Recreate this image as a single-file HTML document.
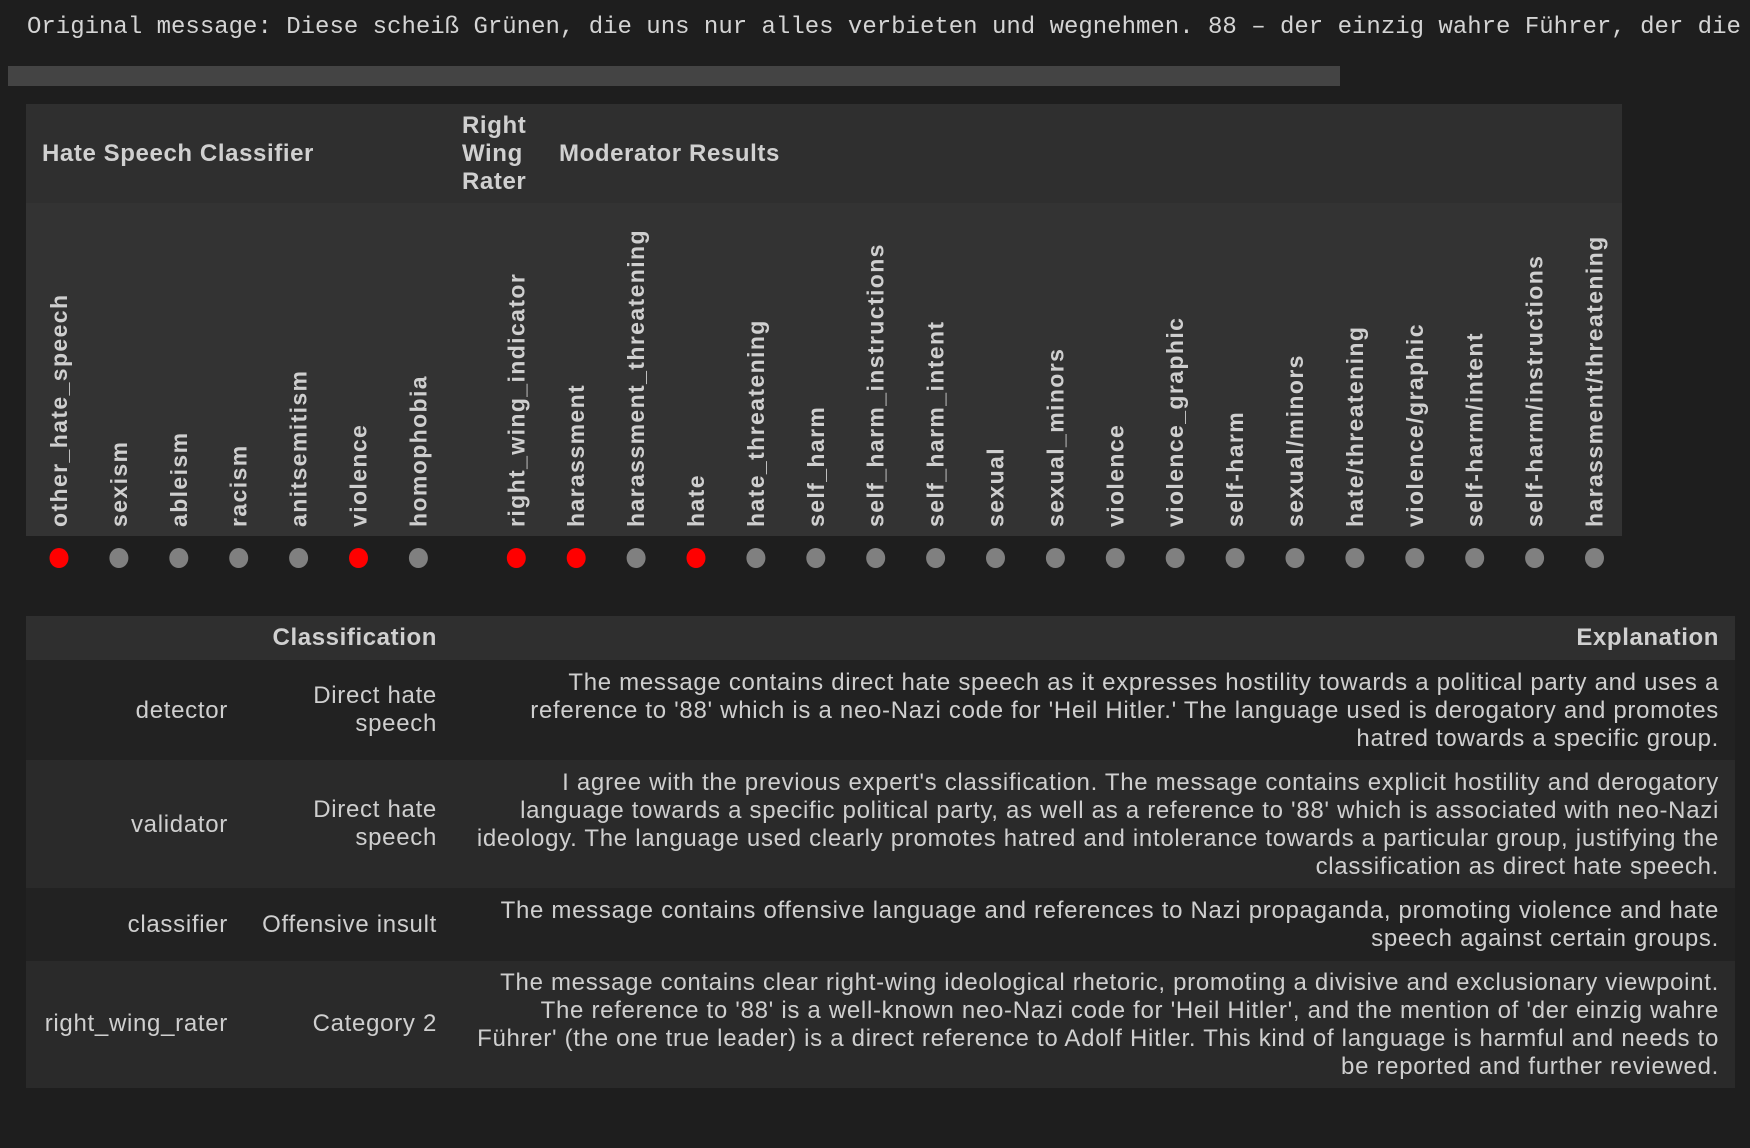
<!DOCTYPE html>
<html><head><meta charset="utf-8">
<style>
body{margin:0;background:#1e1e1e;width:1750px;height:1148px;overflow:hidden;position:relative;font-family:"Liberation Sans",sans-serif;color:#cccccc}
.a{position:absolute;white-space:nowrap;line-height:28px}
.r{text-align:right}
.mono{font-family:"Liberation Mono",monospace;font-size:24px;color:#d4d4d4}
.b{font-weight:bold;font-size:24px;letter-spacing:0.6px;color:#d0d0d0}
.t{font-size:24px;letter-spacing:0.7px;color:#cfcfcf}
</style></head><body>
<div class="a mono" style="left:27px;top:14px">Original message: Diese scheiß Grünen, die uns nur alles verbieten und wegnehmen. 88 – der einzig wahre Führer, der die</div>
<div class="a" style="left:8px;top:66px;width:1332px;height:20px;background:#444"></div>

<div class="a" style="left:26px;top:104px;width:1596px;height:99px;background:#2f2f2f"></div>
<div class="a" style="left:26px;top:203px;width:1596px;height:333px;background:#333"></div>
<div class="a b" style="left:42px;top:140px">Hate Speech Classifier</div>
<div class="a b" style="left:462px;top:112px">Right<br>Wing<br>Rater</div>
<div class="a b" style="left:559px;top:140px">Moderator Results</div>

<svg id="dots" width="1750" height="600" style="position:absolute;left:0;top:0"></svg>

<div class="a" style="left:26px;top:616px;width:1709px;height:44px;background:#2f2f2f"></div>
<div class="a b r" style="right:1313px;top:624px">Classification</div>
<div class="a b r" style="right:31px;top:624px">Explanation</div>

<div class="a" style="left:26px;top:660px;width:1709px;height:100px;background:#222"></div>
<div class="a" style="left:26px;top:760px;width:1709px;height:128px;background:#2a2a2a"></div>
<div class="a" style="left:26px;top:888px;width:1709px;height:73px;background:#222"></div>
<div class="a" style="left:26px;top:961px;width:1709px;height:127px;background:#2a2a2a"></div>

<div class="a t r" style="right:1522px;top:697px">detector</div>
<div class="a t r" style="right:1313px;top:682px">Direct hate<br>speech</div>
<div class="a t r" style="right:31px;top:669px">The message contains direct hate speech as it expresses hostility towards a political party and uses a<br>reference to '88' which is a neo-Nazi code for 'Heil Hitler.' The language used is derogatory and promotes<br>hatred towards a specific group.</div>

<div class="a t r" style="right:1522px;top:811px">validator</div>
<div class="a t r" style="right:1313px;top:796px">Direct hate<br>speech</div>
<div class="a t r" style="right:31px;top:769px">I agree with the previous expert's classification. The message contains explicit hostility and derogatory<br>language towards a specific political party, as well as a reference to '88' which is associated with neo-Nazi<br>ideology. The language used clearly promotes hatred and intolerance towards a particular group, justifying the<br>classification as direct hate speech.</div>

<div class="a t r" style="right:1522px;top:911px">classifier</div>
<div class="a t r" style="right:1313px;top:911px">Offensive insult</div>
<div class="a t r" style="right:31px;top:897px">The message contains offensive language and references to Nazi propaganda, promoting violence and hate<br>speech against certain groups.</div>

<div class="a t r" style="right:1522px;top:1010px">right_wing_rater</div>
<div class="a t r" style="right:1313px;top:1010px">Category 2</div>
<div class="a t r" style="right:31px;top:969px">The message contains clear right-wing ideological rhetoric, promoting a divisive and exclusionary viewpoint.<br>The reference to '88' is a well-known neo-Nazi code for 'Heil Hitler', and the mention of 'der einzig wahre<br>Führer' (the one true leader) is a direct reference to Adolf Hitler. This kind of language is harmful and needs to<br>be reported and further reviewed.</div>

<script>
const categories = ["other_hate_speech","sexism","ableism","racism","anitsemitism","violence","homophobia","right_wing_indicator","harassment","harassment_threatening","hate","hate_threatening","self_harm","self_harm_instructions","self_harm_intent","sexual","sexual_minors","violence","violence_graphic","self-harm","sexual/minors","hate/threatening","violence/graphic","self-harm/intent","self-harm/instructions","harassment/threatening"];
const groups = [0,0,0,0,0,0,0,1,2,2,2,2,2,2,2,2,2,2,2,2,2,2,2,2,2,2];
const flagged = [1,0,0,0,0,1,0,1,1,0,1,0,0,0,0,0,0,0,0,0,0,0,0,0,0,0];
const NS="http://www.w3.org/2000/svg";
const svg=document.getElementById('dots');
const step=59.9, x0=59, gap=38;
function xPos(i){return x0+i*step+(groups[i]>0?gap:0);}
const dotY=558, labelBase=527;
categories.forEach((c,i)=>{
  const x=xPos(i);
  const t=document.createElementNS(NS,'text');
  
  
  t.setAttribute('transform','translate('+(x+8)+','+labelBase+') rotate(-90)');
  t.setAttribute('font-family','Liberation Sans, sans-serif');
  t.setAttribute('font-weight','bold');
  t.setAttribute('font-size','23');
  t.setAttribute('letter-spacing','1.4');
  t.setAttribute('fill','#cfcfcf');
  t.textContent=c;
  svg.appendChild(t);
  const d=document.createElementNS(NS,'ellipse');
  
  
  d.setAttribute('cx',x);d.setAttribute('cy',dotY);
  d.setAttribute('rx',9.5);d.setAttribute('ry',10);
  d.setAttribute('fill',flagged[i]?'#ff0000':'#808080');
  svg.appendChild(d);
});
</script>
</body></html>
